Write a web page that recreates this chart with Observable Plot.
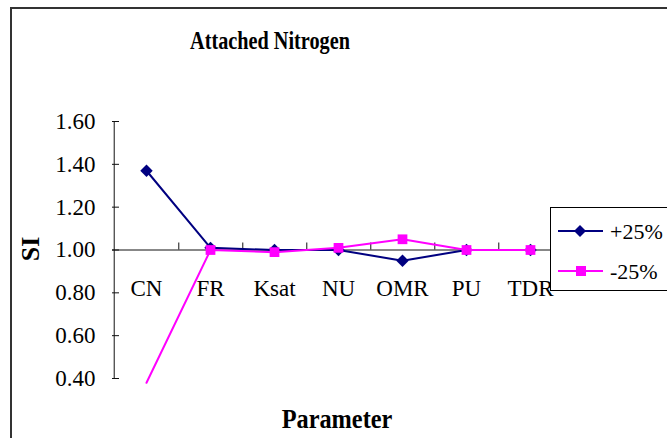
<!DOCTYPE html>
<html>
<head>
<meta charset="utf-8">
<script src="https://cdn.jsdelivr.net/npm/d3@7"></script>
<script src="https://cdn.jsdelivr.net/npm/@observablehq/plot@0.6"></script>
<style>
  html, body { margin: 0; padding: 0; background: #fff; }
  #chart { position: relative; width: 667px; height: 438px; overflow: hidden; background: #fff;
           font-family: "Liberation Serif", "Times New Roman", serif; color: #000; }
  #border { position: absolute; left: 10px; top: 7px; width: 720px; height: 520px;
            border-top: 2px solid #333; border-left: 2px solid #333; }
  #plot { position: absolute; left: 0; top: 0; }
  .lbl { position: absolute; font-weight: bold; line-height: 1; white-space: nowrap; }
  #title { left: 270px; top: 28px; font-size: 25px; transform: translateX(-50%) scaleX(0.81); }
  #xlabel { left: 337px; top: 406px; font-size: 27px; transform: translateX(-50%) scaleX(0.9); }
  #ylabel { left: 31px; top: 249px; font-size: 26px; transform: translate(-50%, -50%) rotate(-90deg); }
  #legend { position: absolute; left: 550px; top: 207px; width: 140px; height: 82px;
            border: 1px solid #000; background: #fff; }
</style>
</head>
<body>
<div id="chart">
  <div id="border"></div>
  <div id="plot"></div>
  <div id="title" class="lbl">Attached Nitrogen</div>
  <div id="xlabel" class="lbl">Parameter</div>
  <div id="ylabel" class="lbl">SI</div>
  <div id="legend"></div>
</div>
<script>
// Sensitivity index per parameter for a ±25% change
const categories = ["CN", "FR", "Ksat", "NU", "OMR", "PU", "TDR"];
const plus25 = [1.37, 1.01, 1.00, 1.00, 0.95, 1.00, 1.00];
const minus25 = [0.38, 1.00, 0.99, 1.01, 1.05, 1.00, 1.00];
const yTicks = [0.40, 0.60, 0.80, 1.00, 1.20, 1.40, 1.60];
const seriesNames = ["+25%", "-25%"];
const seriesColors = ["#000080", "#FF00FF"];
const seriesSymbols = ["diamond2", "square"];
const crossing = 1.00;

const W = 667, H = 438;
const mL = 112, mR = 103, mT = 121, mB = 60;
const step = (W - mL - mR) / categories.length;

const series = [plus25, minus25].map((vals, s) =>
  categories.map((c, i) => ({category: c, value: vals[i], series: seriesNames[s]}))
);

const yMin = yTicks[0], yMax = yTicks[yTicks.length - 1];

const seriesMarks = series.flatMap((rows, s) => [
  Plot.line(rows, {x: "category", y: "value", stroke: seriesColors[s], strokeWidth: 2}),
  Plot.dot(rows, {
    x: "category", y: "value", symbol: () => seriesSymbols[s],
    r: s === 0 ? 5.6 : 5.5, fill: seriesColors[s], stroke: "none",
    filter: d => d.value >= yMin && d.value <= yMax
  })
]);

const chart = Plot.plot({
  width: W, height: H,
  marginLeft: mL, marginRight: mR, marginTop: mT, marginBottom: mB,
  style: {fontFamily: "'Liberation Serif', 'Times New Roman', serif", fontSize: "22px",
          color: "#000", background: "transparent", overflow: "visible"},
  x: {type: "point", domain: categories, padding: 0.5, axis: null},
  y: {domain: [yMin, yMax]},
  symbol: {type: "identity"},
  marks: [
    // vertical value axis line
    Plot.ruleX([categories[0]], {x: d => d, y1: yMin, y2: yMax, dx: -step / 2, stroke: "#111"}),
    Plot.axisY({ticks: yTicks, tickFormat: d3.format(".2f"), tickSize: -7, tickPadding: 24,
                fontSize: 23, label: null, stroke: "#111"}),
    // category axis crossing at 1.00
    Plot.ruleY([crossing], {stroke: "#111"}),
    Plot.ruleX(categories.slice(0, -1), {x: d => d, y1: crossing, y2: crossing, dx: step / 2,
                                          insetBottom: 7, stroke: "#111"}),
    Plot.text(categories, {x: d => d, y: crossing, dy: 39, fontSize: 23, fill: "#000"}),
    ...seriesMarks
  ]
});
document.getElementById("plot").appendChild(chart);

// legend
const lg = d3.select("#legend").append("svg").attr("width", 140).attr("height", 82)
  .style("font-family", "'Liberation Serif', 'Times New Roman', serif");
seriesNames.forEach((name, s) => {
  const cy = 23 + s * 40;
  const g = lg.append("g");
  g.append("line").attr("x1", 7).attr("x2", 52).attr("y1", cy).attr("y2", cy)
    .attr("stroke", seriesColors[s]).attr("stroke-width", 2);
  if (s === 0) {
    g.append("path").attr("d", `M29,${cy - 6}L35,${cy}L29,${cy + 6}L23,${cy}Z`).attr("fill", seriesColors[s]);
  } else {
    g.append("rect").attr("x", 25).attr("y", cy - 5).attr("width", 10).attr("height", 10).attr("fill", seriesColors[s]);
  }
  g.append("text").attr("x", 59).attr("y", cy + 8).attr("font-size", 22).text(name);
});
</script>
</body>
</html>
